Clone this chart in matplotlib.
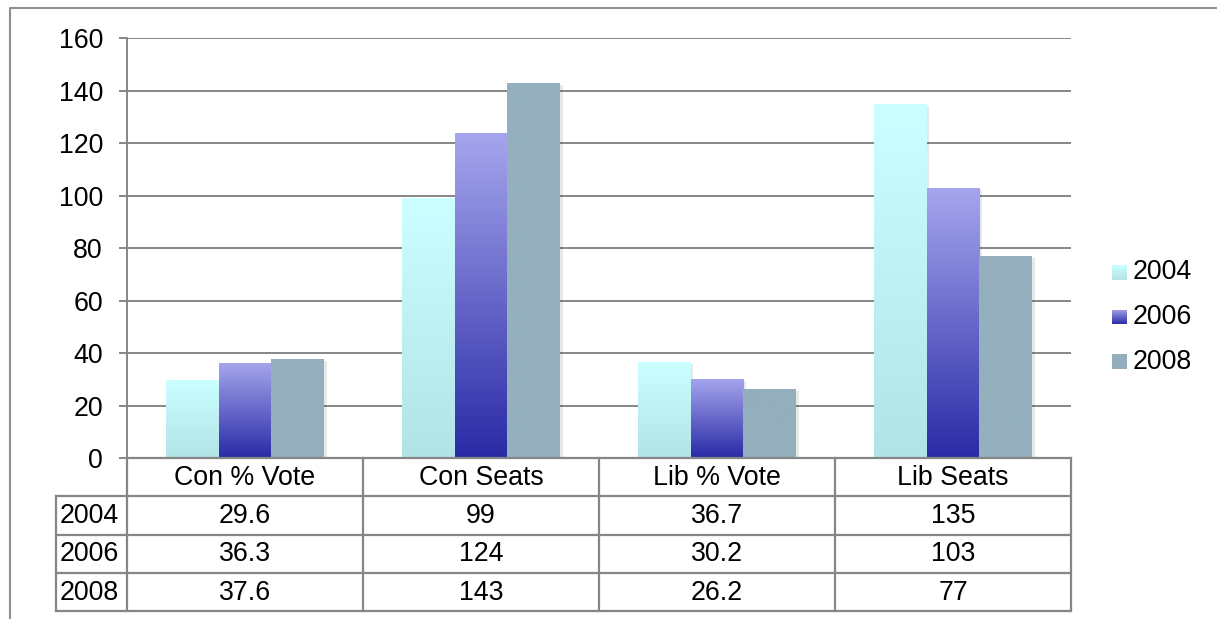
import numpy as np
import matplotlib.pyplot as plt
from matplotlib.colors import LinearSegmentedColormap
from matplotlib.lines import Line2D
import matplotlib.patheffects as pe

plt.rcParams['font.family'] = ['Liberation Sans', 'DejaVu Sans']

# data
categories = ['Con % Vote', 'Con Seats', 'Lib % Vote', 'Lib Seats']
years = ['2004', '2006', '2008']
vals_2004 = [29.6, 99, 36.7, 135]
vals_2006 = [36.3, 124, 30.2, 103]
vals_2008 = [37.6, 143, 26.2, 77]
series = [vals_2004, vals_2006, vals_2008]

# bottom -> top colours of each series gradient
grads = [('#B2E3E7', '#CCFFFF'),
         ('#2A2AA6', '#A6A6EE'),
         ('#94AFBD', '#94AFBD')]
grid_col = '#868686'
fs = 19.3

W, H = 1217, 619
fig = plt.figure(figsize=(W / 100, H / 100), dpi=100)


def box(x0, y0, x1, y1):
    # pixel box (top-left origin) -> figure rect
    return [x0 / W, 1 - y1 / H, (x1 - x0) / W, (y1 - y0) / H]


ramp = np.linspace(0, 1, 256).reshape(-1, 1)
cmaps = [LinearSegmentedColormap.from_list('g%d' % i, g) for i, g in enumerate(grads)]

ax = fig.add_axes(box(127, 38, 1071, 458))
x = np.arange(len(categories))
bw = 0.67 / 3
for i, vals in enumerate(series):
    bars = ax.bar(x + (i - 1) * bw, vals, bw, color='#777777', zorder=2,
                  path_effects=[pe.SimplePatchShadow(offset=(2, -1.5), shadow_rgbFace='#000000', alpha=0.09)])
    for b in bars:
        b.set_facecolor('none')
        b.set_edgecolor('none')
        im = ax.imshow(ramp, extent=[b.get_x(), b.get_x() + b.get_width(), 0, b.get_height()],
                       origin='lower', cmap=cmaps[i], aspect='auto', zorder=3)
        im.set_clip_path(b)

ax.set_xlim(-0.5, 3.5)
ax.set_ylim(0, 160)
ax.set_yticks(range(0, 161, 20))
ax.set_xticks([])
ax.yaxis.grid(True, color=grid_col, lw=1.4)
ax.set_axisbelow(True)
for s in ['top', 'right', 'bottom']:
    ax.spines[s].set_visible(False)
ax.spines['left'].set_color(grid_col)
ax.spines['left'].set_linewidth(1.4)
ax.tick_params(axis='y', length=5.8, width=1.4, color=grid_col, pad=11.5, labelsize=fs)

# data table under the chart
tax = fig.add_axes(box(127, 458, 1071, 611))
tax.set_xlim(-0.5, 3.5)
tax.set_ylim(4, 0)
tax.axis('off')
lab_left = -0.5 - 71 / 236
lk = dict(color=grid_col, lw=1.6, clip_on=False, solid_capstyle='projecting')
tax.plot([-0.5, 3.5], [0, 0], **lk)
for r in range(1, 5):
    tax.plot([lab_left, 3.5], [r, r], **lk)
tax.plot([lab_left, lab_left], [1, 4], **lk)
for c in range(5):
    tax.plot([c - 0.5, c - 0.5], [0, 4], **lk)
for j, cat in enumerate(categories):
    tax.text(j, 0.52, cat, ha='center', va='center', fontsize=fs)
for i, vals in enumerate(series):
    tax.text(lab_left + 4 / 236, i + 1.52, years[i], ha='left', va='center', fontsize=fs)
    for j, v in enumerate(vals):
        tax.text(j, i + 1.52, f'{v:g}', ha='center', va='center', fontsize=fs)

# legend
leg_y = [272, 317, 362]
for i, yr in enumerate(years):
    sax = fig.add_axes(box(1112, leg_y[i] - 7.5, 1127, leg_y[i] + 7.5))
    sax.imshow(ramp, origin='lower', cmap=cmaps[i], aspect='auto')
    sax.axis('off')
    fig.text(1133 / W, 1 - leg_y[i] / H, yr, ha='left', va='center', fontsize=fs)

# chart frame
fig.add_artist(Line2D([10 / W, 10 / W, 1], [0, 1 - 8 / H, 1 - 8 / H],
                      transform=fig.transFigure, color='#8F8F8F', lw=1.5))

fig.savefig('out.png', dpi=100)
